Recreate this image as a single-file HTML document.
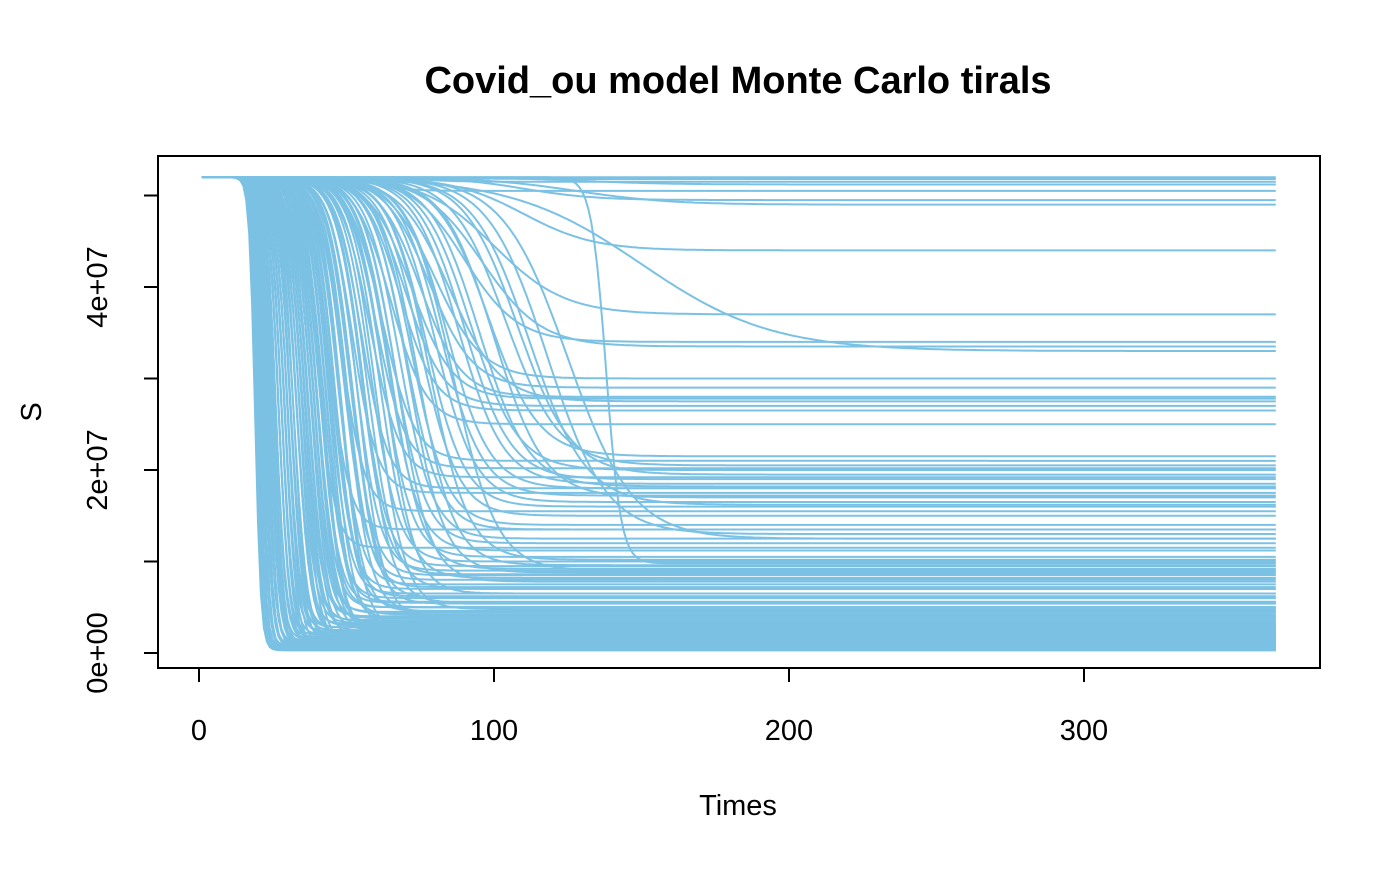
<!DOCTYPE html>
<html><head><meta charset="utf-8"><style>
body{margin:0;background:#fff}
svg text{font-family:"Liberation Sans",Arial,sans-serif;fill:#000}
</style></head><body>
<svg id="chart" width="1400" height="865" viewBox="0 0 1400 865" xmlns="http://www.w3.org/2000/svg">
<rect width="1400" height="865" fill="#fff"/>
<text x="738" y="93" font-size="38" font-weight="bold" text-anchor="middle">Covid_ou model Monte Carlo tirals</text>
<g id="series"></g>
<rect x="158" y="156" width="1162" height="512" fill="none" stroke="#000" stroke-width="2"/>
<g id="axes"></g>
<text x="738" y="815" font-size="29" text-anchor="middle">Times</text>
<text x="0" y="0" font-size="29" text-anchor="middle" transform="translate(41,412) rotate(-90)">S</text>
</svg>
<script>
// start population (millions)
const s0 = 52.0;
// per-trial: midpoint day of epidemic, spread (days), final susceptible (millions)
const trialMid = [19,19.5,20,20,20.5,21,21,21.5,22,22,22.5,23,23,23.5,24,24,24.5,25,25,25.5,26,26,27,27,28,28,29,29,30,30,31,31,32,33,33,34,35,35,36,36,37,38,38,39,40,40,41,42,42,43,44,45,45,46,47,48,49,50,51,52,53,54,55,56,57,58,60,61,62,63,64,65,66,67,68,70,71,72,74,75,77,78,80,82,84,86,88,90,92,95,98,100,104,108,112,118,125,138,
 40,44,48,52,55,58,60,62,65,68,70,72,75,78,80,85,90,96,100,110,128,150,60,75,88,110,130,140,
 20,21,22,23,24,25,26,27,28,29,30,31,32,33,34,35,36,37,38,39,40,41,42,43,44,46,48,50,52,55];
const trialWidth = [1,1,1,1.1,1.1,1.2,1.2,1.2,1.3,1.3,1.3,1.4,1.4,1.4,1.5,1.5,1.5,1.6,1.6,1.6,1.7,1.7,1.8,1.8,1.9,1.9,2,2,2.1,2.1,2.2,2.2,2.3,2.4,2.4,2.5,2.5,2.6,2.6,2.7,2.8,2.8,2.9,3,3,3.1,3.1,3.2,3.3,3.3,3.4,3.5,3.5,3.6,3.7,3.8,3.9,4,4,4.1,4.2,4.3,4.4,4.5,4.6,4.7,4.8,4.9,5,5,5.2,5.3,5.4,5.5,5.6,5.8,6,6,6.2,6.4,6.5,6.6,6.8,7,7.2,7.4,7.6,7.8,8,8.2,8.5,8.5,9,9,9.5,10,11,2.5,
 3,3.5,4,4.2,4.5,5,5,5.5,6,6,6.5,7,7,7.5,8,8.5,9,10,12,12,16,22,6,7,9,12,15,3,
 1.2,1.2,1.3,1.4,1.5,1.5,1.6,1.7,1.8,1.9,2,2,2.1,2.2,2.3,2.4,2.5,2.6,2.7,2.8,2.9,3,3,3.1,3.2,3.4,3.6,3.8,4,4.2];
const trialFinal = [0.3,0.4,0.5,0.3,0.6,0.5,0.8,0.4,0.7,1.0,0.6,0.9,1.2,0.5,1.0,1.4,0.8,1.1,1.5,0.7,1.3,1.8,0.9,1.6,2.0,1.2,2.2,0.6,1.8,2.5,1.0,2.8,1.5,3.0,2.0,3.3,1.2,3.5,2.4,4.0,1.7,3.8,4.5,2.6,5.0,3.2,5.5,2.2,6.0,4.2,6.5,3.0,7.0,5.0,7.5,2.5,8.0,4.5,8.5,6.0,9.0,3.5,9.5,5.5,7.0,10.0,4.8,8.2,10.5,6.5,11.2,9.2,12.0,7.8,12.5,13.5,8.8,14.0,9.6,15.0,16.0,10.2,16.5,17.2,18.0,9.0,18.5,19.0,20.0,18.2,21.5,17.0,20.5,19.5,16.2,13.0,12.5,9.8,
 11.5,13.5,15.5,17.5,18.0,19.2,20.2,21.0,25.0,26.5,27.0,27.8,28.0,29.0,30.0,27.5,34.0,33.5,37.0,44.0,49.0,33.0,50.5,51.5,51.8,49.5,51.2,52.0,
 0.4,0.6,0.8,1.0,1.3,0.7,1.6,2.0,1.1,2.4,0.9,2.8,1.5,3.2,2.0,3.6,1.3,4.0,2.6,4.4,3.0,5.0,2.2,5.6,3.8,6.2,4.6,7.2,5.4,8.6];
const xTicks = [0,100,200,300];
const yTicks = [0,10,20,30,40,50];
const yLabels = ["0e+00","","2e+07","","4e+07",""];

const NS="http://www.w3.org/2000/svg";
const xs = d => 199 + d*2.95;
const ys = m => 653 - m*9.15;
const g = document.getElementById('series');
for(let i=0;i<trialMid.length;i++){
  let d="";
  for(let t=1;t<=365;t++){
    const v = trialFinal[i] + (s0-trialFinal[i])/(1+Math.exp((t-trialMid[i])/trialWidth[i]));
    d += (t===1?"M":"L")+xs(t).toFixed(1)+" "+ys(v).toFixed(1);
  }
  const p=document.createElementNS(NS,'path');
  p.setAttribute('d',d);
  p.setAttribute('fill','none');
  p.setAttribute('stroke','#7bc1e4');
  p.setAttribute('stroke-width','2');
  
  
  g.appendChild(p);
}
const ax=document.getElementById('axes');


let h='<line x1="'+xs(0)+'" y1="668" x2="'+xs(300)+'" y2="668" stroke="#000" stroke-width="2"/>';
xTicks.forEach(v=>{
  h+='<line x1="'+xs(v)+'" y1="668" x2="'+xs(v)+'" y2="682" stroke="#000" stroke-width="2"/>';
  h+='<text x="'+xs(v)+'" y="740" font-size="29" text-anchor="middle">'+v+'</text>';
});
h+='<line x1="158" y1="'+ys(0)+'" x2="158" y2="'+ys(50)+'" stroke="#000" stroke-width="2"/>';
yTicks.forEach((v,i)=>{
  h+='<line x1="144" y1="'+ys(v)+'" x2="158" y2="'+ys(v)+'" stroke="#000" stroke-width="2"/>';
  if(yLabels[i]) h+='<text font-size="29" text-anchor="middle" transform="translate(107,'+ys(v)+') rotate(-90)">'+yLabels[i]+'</text>';
});
ax.innerHTML=h;
</script>
</body></html>
